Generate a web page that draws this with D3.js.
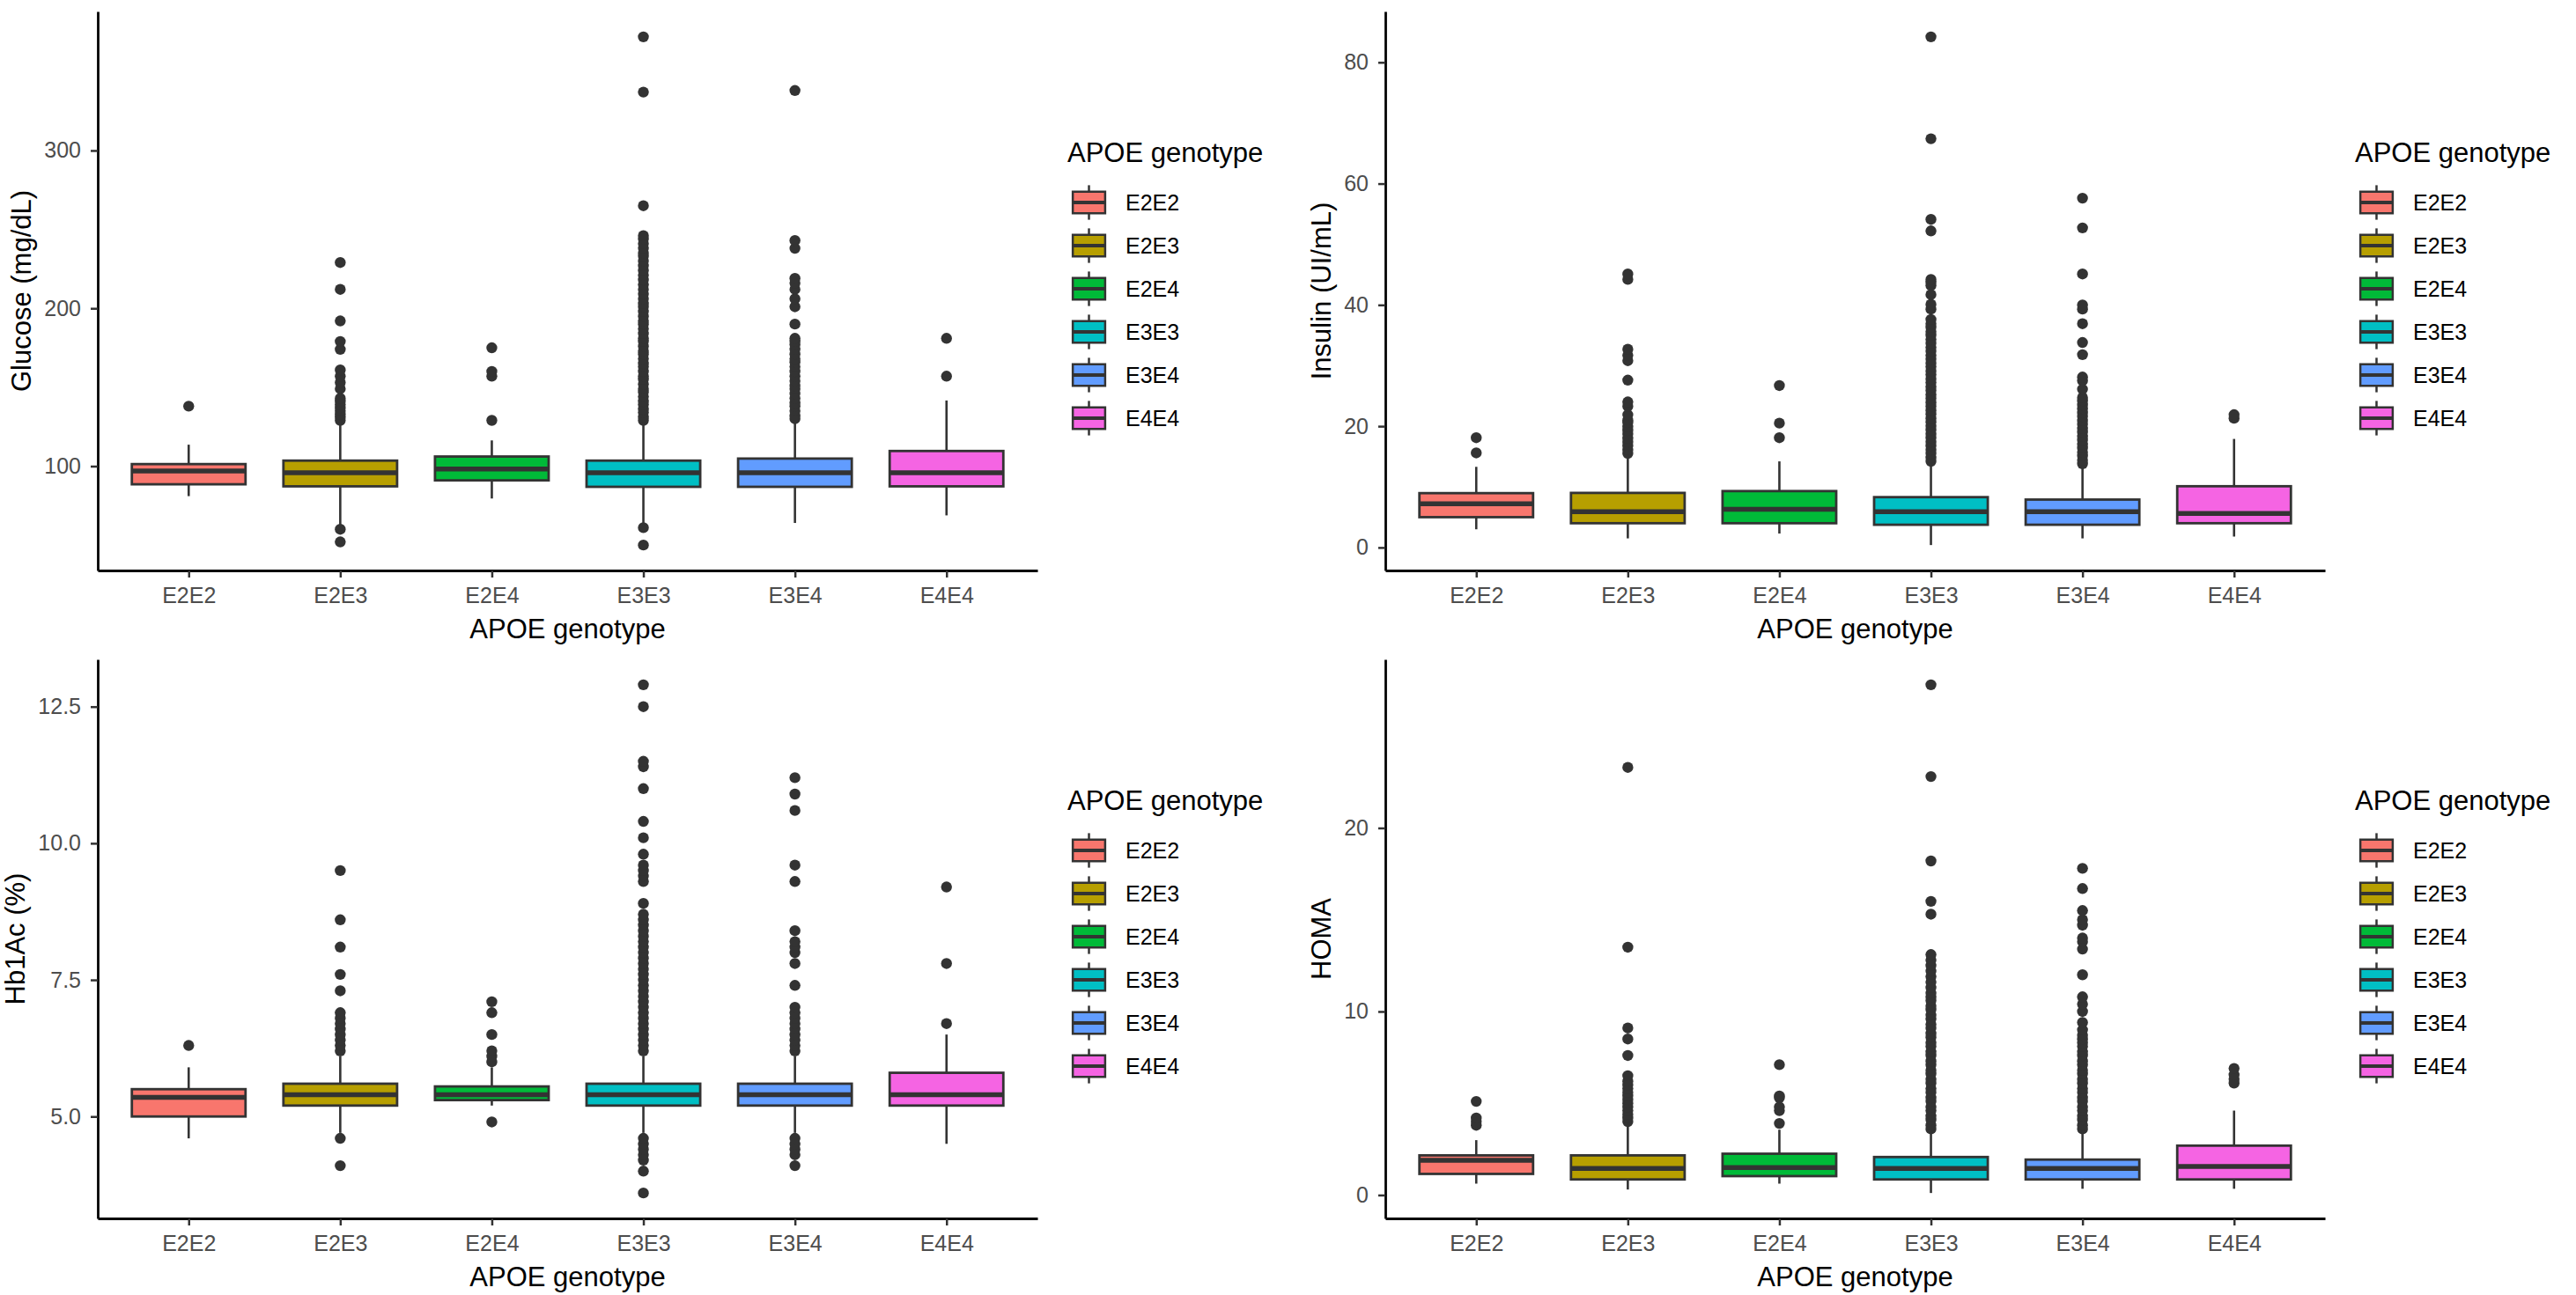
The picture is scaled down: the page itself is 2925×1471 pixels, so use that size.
<!DOCTYPE html>
<html>
<head>
<meta charset="utf-8">
<script src="https://cdn.jsdelivr.net/npm/d3@7/dist/d3.min.js"></script>
<style>
body { margin: 0; background: #fff; }
text { font-family: "Liberation Sans", Arial, sans-serif; }
</style>
</head>
<body>
<svg id="chart" width="2925" height="1471"></svg>
<script>
var genotypes = ['E2E2', 'E2E3', 'E2E4', 'E3E3', 'E3E4', 'E4E4'];
var fillColors = ['#F8766D', '#B79F00', '#00BA38', '#00BFC4', '#619CFF', '#F564E3'];
var legendTitle = 'APOE genotype';
var xTitle = 'APOE genotype';

// box stats per genotype: [lower whisker, q1, median, q3, upper whisker]
var glucoseBoxes = [
	[81, 88.5, 97, 101.3, 113.6],
	[62, 87.2, 95.8, 103.5, 128.8],
	[79.5, 91, 98.2, 106.1, 116.3],
	[62, 86.9, 95.8, 103.5, 128],
	[64, 86.9, 95.8, 104.8, 128.8],
	[68.8, 87.2, 95.8, 109.6, 141.6]
];
var glucoseOutliers = [
	[138],
	[52, 60, 129, 131, 133, 135, 137, 139, 141, 143, 149, 153, 157, 161, 174, 179, 192, 212, 229],
	[129, 157, 160, 175],
	[50, 61, 129, 131, 134, 136, 139, 141, 144, 147, 149, 152, 155, 157, 160, 163, 165, 168, 171, 173,
	 176, 179, 181, 184, 187, 190, 192, 195, 198, 201, 203, 206, 209, 212, 215, 218, 221, 224, 227, 230,
	 233, 235, 238, 241, 244, 246, 265, 337, 372],
	[130, 132, 135, 138, 140, 143, 146, 149, 151, 154, 157, 160, 163, 166, 168, 171, 174, 177, 179, 181,
	 190, 201, 206, 212, 216, 219, 238, 243, 338],
	[157, 181]
];
var glucoseTicks = [100, 200, 300];
var glucoseTickLabels = ['100', '200', '300'];

var insulinBoxes = [
	[3.0, 5.0, 7.2, 8.96, 13.3],
	[1.5, 4.0, 5.9, 9.0, 15.3],
	[2.3, 4.0, 6.3, 9.3, 14.2],
	[0.4, 3.75, 5.9, 8.3, 14.0],
	[1.5, 3.75, 5.9, 7.9, 13.6],
	[1.8, 4.0, 5.6, 10.1, 17.9]
];
var insulinOutliers = [
	[15.6, 18.1],
	[15.5, 16.1, 16.8, 17.4, 18.0, 18.7, 19.3, 19.9, 20.6, 21.0, 21.9, 23.3, 24.0, 27.6, 30.8, 31.7, 32.7, 44.2, 45.1],
	[18.1, 20.5, 26.7],
	[14.2, 14.8, 15.5, 16.1, 16.8, 17.4, 18.1, 18.7, 19.4, 20.0, 20.7, 21.3, 22.0, 22.6, 23.3, 23.9, 24.6,
	 25.2, 25.9, 26.5, 27.2, 27.8, 28.5, 29.1, 29.8, 30.4, 31.1, 31.7, 32.4, 33.0, 33.7, 34.3, 35.0, 35.6,
	 36.3, 36.9, 37.6, 39.3, 40.1, 41.7, 43.2, 43.7, 44.2, 52.2, 54.1, 67.4, 84.2],
	[13.8, 14.4, 15.1, 15.7, 16.4, 17.0, 17.7, 18.3, 19.0, 19.6, 20.3, 20.9, 21.6, 22.2, 22.9, 23.5, 24.2,
	 24.7, 26.1, 27.5, 28.1, 31.8, 33.8, 36.9, 39.3, 40.0, 45.1, 52.7, 57.6],
	[21.3, 21.9]
];
var insulinTicks = [0, 20, 40, 60, 80];
var insulinTickLabels = ['0', '20', '40', '60', '80'];

var hba1cBoxes = [
	[4.6, 5.0, 5.35, 5.5, 5.9],
	[4.7, 5.2, 5.4, 5.6, 6.1],
	[5.2, 5.3, 5.4, 5.55, 5.9],
	[4.7, 5.2, 5.4, 5.6, 6.1],
	[4.7, 5.2, 5.4, 5.6, 6.1],
	[4.5, 5.2, 5.4, 5.8, 6.5]
];
var hba1cOutliers = [
	[6.3],
	[4.1, 4.6, 6.2, 6.3, 6.4, 6.5, 6.6, 6.7, 6.8, 6.9, 7.3, 7.6, 8.1, 8.6, 9.5],
	[4.9, 6.0, 6.1, 6.2, 6.5, 6.9, 7.1],
	[3.6, 4.0, 4.2, 4.3, 4.4, 4.5, 4.6, 6.2, 6.3, 6.4, 6.5, 6.6, 6.7, 6.8, 6.9, 7.0, 7.1, 7.2, 7.3, 7.4,
	 7.5, 7.6, 7.7, 7.8, 7.9, 8.0, 8.1, 8.2, 8.3, 8.4, 8.5, 8.6, 8.7, 8.9, 9.3, 9.4, 9.5, 9.6, 9.8, 10.1,
	 10.4, 11.0, 11.4, 11.5, 12.5, 12.9],
	[4.1, 4.3, 4.4, 4.5, 4.6, 6.2, 6.3, 6.4, 6.5, 6.6, 6.7, 6.8, 6.9, 7.0, 7.4, 7.8, 8.0, 8.1, 8.2, 8.4,
	 9.3, 9.6, 10.6, 10.9, 11.2],
	[6.7, 7.8, 9.2]
];
var hba1cTicks = [5, 7.5, 10, 12.5];
var hba1cTickLabels = ['5.0', '7.5', '10.0', '12.5'];

var homaBoxes = [
	[0.62, 1.15, 1.89, 2.16, 2.99],
	[0.3, 0.85, 1.45, 2.16, 3.91],
	[0.62, 1.03, 1.49, 2.25, 3.56],
	[0.11, 0.85, 1.45, 2.07, 3.56],
	[0.34, 0.85, 1.45, 1.93, 3.56],
	[0.34, 0.85, 1.56, 2.69, 4.6]
];
var homaOutliers = [
	[3.8, 4.0, 4.2, 5.1],
	[4.0, 4.2, 4.4, 4.6, 4.8, 5.0, 5.2, 5.4, 5.6, 5.8, 6.0, 6.2, 6.5, 7.6, 8.5, 9.1, 13.5, 23.3],
	[3.9, 4.6, 4.8, 5.3, 5.4, 7.1],
	[3.6, 3.8, 4.1, 4.3, 4.6, 4.8, 5.1, 5.3, 5.6, 5.8, 6.1, 6.3, 6.6, 6.8, 7.1, 7.3, 7.6, 7.8, 8.1, 8.3,
	 8.6, 8.8, 9.1, 9.3, 9.6, 9.8, 10.1, 10.3, 10.6, 10.8, 11.0, 11.3, 11.6, 11.9, 12.2, 12.5, 12.8, 13.1,
	 15.3, 16.0, 18.2, 22.8, 27.8],
	[3.6, 3.8, 4.1, 4.3, 4.6, 4.8, 5.1, 5.3, 5.6, 5.8, 6.1, 6.3, 6.6, 6.8, 7.1, 7.3, 7.6, 7.8, 8.1, 8.3,
	 8.5, 8.7, 9.0, 9.4, 10.0, 10.4, 10.8, 12.0, 13.4, 13.8, 14.0, 14.7, 15.0, 15.5, 16.7, 17.8],
	[6.1, 6.3, 6.55, 6.9]
];
var homaTicks = [0, 10, 20];
var homaTickLabels = ['0', '10', '20'];

var panels = [
	{yTitle : 'Glucose (mg/dL)', boxes : glucoseBoxes, outliers : glucoseOutliers, ticks : glucoseTicks, labels : glucoseTickLabels, col : 0, row : 0},
	{yTitle : 'Insulin (UI/mL)', boxes : insulinBoxes, outliers : insulinOutliers, ticks : insulinTicks, labels : insulinTickLabels, col : 1, row : 0},
	{yTitle : 'Hb1Ac (%)', boxes : hba1cBoxes, outliers : hba1cOutliers, ticks : hba1cTicks, labels : hba1cTickLabels, col : 0, row : 1},
	{yTitle : 'HOMA', boxes : homaBoxes, outliers : homaOutliers, ticks : homaTicks, labels : homaTickLabels, col : 1, row : 1}
];

var svg = d3.select('#chart'),
	cellW = 1462,
	cellH = 736,
	plot = {left : 111, right : 1178, top : 13, bottom : 648},
	legendX = 1212,
	ink = '#333333';

panels.forEach(drawPanel);

function drawPanel(p){
	var g = svg.append('g')
		.attr('transform', `translate(${p.col * cellW},${p.row * cellH})`);

	var x = d3.scalePoint()
		.domain(genotypes)
		.range([plot.left, plot.right])
		.padding(0.6);

	var all = d3.merge(p.boxes.map((b)=>[b[0], b[4]]).concat(p.outliers));
	var ext = d3.extent(all), span = ext[1] - ext[0];
	var y = d3.scaleLinear()
		.domain([ext[0] - 0.05 * span, ext[1] + 0.05 * span])
		.range([plot.bottom, plot.top]);

	var bw = x.step() * 0.75;

	//outliers
	g.append('g').selectAll('g')
		.data(p.outliers)
		.enter()
		.append('g')
		.each(function(vals, i){
			d3.select(this).selectAll('circle')
				.data(vals)
				.enter()
				.append('circle')
				.attr('cx', x(genotypes[i]))
				.attr('cy', (d)=>y(d))
				.attr('r', 6.2)
				.attr('fill', ink);
		});

	//boxes
	var box = g.append('g').selectAll('g')
		.data(p.boxes)
		.enter()
		.append('g')
		.attr('transform', (d, i)=>`translate(${x(genotypes[i])},0)`);

	box.append('line')
		.attr('y1', (d)=>y(d[3])).attr('y2', (d)=>y(d[4]))
		.attr('stroke', ink).attr('stroke-width', 2.6);
	box.append('line')
		.attr('y1', (d)=>y(d[1])).attr('y2', (d)=>y(d[0]))
		.attr('stroke', ink).attr('stroke-width', 2.6);
	box.append('rect')
		.attr('x', -bw / 2)
		.attr('width', bw)
		.attr('y', (d)=>y(d[3]))
		.attr('height', (d)=>y(d[1]) - y(d[3]))
		.attr('fill', (d, i)=>fillColors[i])
		.attr('stroke', ink)
		.attr('stroke-width', 2.8);
	box.append('line')
		.attr('x1', -bw / 2).attr('x2', bw / 2)
		.attr('y1', (d)=>y(d[2])).attr('y2', (d)=>y(d[2]))
		.attr('stroke', ink).attr('stroke-width', 5.5);

	//axes
	var yAxis = g.append('g')
		.attr('transform', `translate(${plot.left},0)`)
		.call(d3.axisLeft(y).tickValues(p.ticks).tickFormat((d, i)=>p.labels[i]).tickSize(8).tickSizeOuter(0).tickPadding(11));
	var xAxis = g.append('g')
		.attr('transform', `translate(0,${plot.bottom})`)
		.call(d3.axisBottom(x).tickSize(8).tickSizeOuter(0).tickPadding(11));

	g.selectAll('.domain').attr('stroke', '#000').attr('stroke-width', 2.8);
	g.selectAll('.tick line').attr('stroke', ink).attr('stroke-width', 2.5);
	g.selectAll('.tick text')
		.attr('fill', '#4D4D4D')
		.style('font-size', '25px')
		.style('font-family', '"Liberation Sans", Arial, sans-serif');

	var labelLeft = d3.min(yAxis.selectAll('.tick text').nodes(), (n)=>plot.left + n.getBBox().x + n.getCTM().e - yAxis.node().getCTM().e);

	g.append('text')
		.text(p.yTitle)
		.attr('transform', `translate(${labelLeft - 15},${(plot.top + plot.bottom) / 2}) rotate(-90)`)
		.attr('text-anchor', 'middle')
		.style('font-size', '31px')
		.attr('fill', '#000');

	g.append('text')
		.text(xTitle)
		.attr('x', (plot.left + plot.right) / 2)
		.attr('y', 725)
		.attr('text-anchor', 'middle')
		.style('font-size', '31px')
		.attr('fill', '#000');

	//legend
	var lg = g.append('g').attr('transform', `translate(${legendX},0)`);
	lg.append('text')
		.text(legendTitle)
		.attr('y', 184)
		.style('font-size', '31px')
		.attr('fill', '#000');

	var key = 49;
	var item = lg.selectAll('.key')
		.data(genotypes)
		.enter()
		.append('g')
		.attr('class', 'key')
		.attr('transform', (d, i)=>`translate(0,${230 - key / 2 + i * key})`);

	item.append('line')
		.attr('x1', key / 2).attr('x2', key / 2)
		.attr('y1', key * 0.1).attr('y2', key * 0.9)
		.attr('stroke', ink).attr('stroke-width', 2.5);
	item.append('rect')
		.attr('x', key * 0.125).attr('width', key * 0.75)
		.attr('y', key * 0.25).attr('height', key * 0.5)
		.attr('fill', (d, i)=>fillColors[i])
		.attr('stroke', ink).attr('stroke-width', 2.5);
	item.append('line')
		.attr('x1', key * 0.125).attr('x2', key * 0.875)
		.attr('y1', key / 2).attr('y2', key / 2)
		.attr('stroke', ink).attr('stroke-width', 4);
	item.append('text')
		.text((d)=>d)
		.attr('x', 66)
		.attr('y', key / 2 + 9)
		.style('font-size', '25px')
		.attr('fill', '#000');
}
</script>
</body>
</html>
